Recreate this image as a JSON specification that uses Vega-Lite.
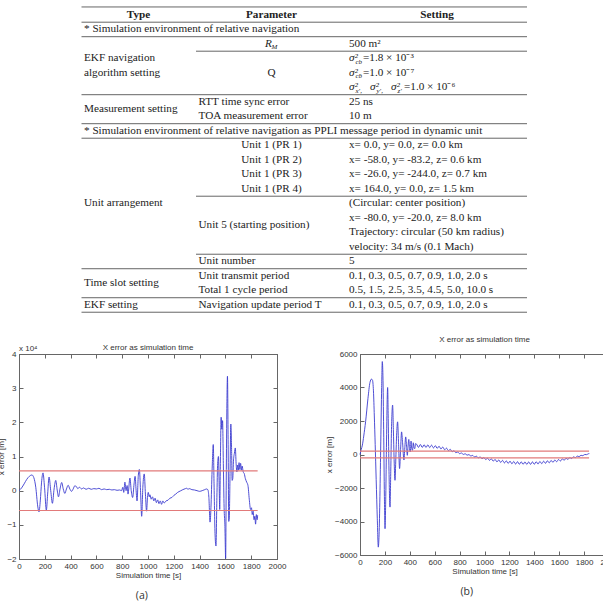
{
  "$schema": "https://vega.github.io/schema/vega-lite/v6.json",
  "padding": {"left": -3, "top": 0, "right": 0, "bottom": 0},
  "background": "white",
  "spacing": 19,
  "config": {
    "view": {"stroke": null},
    "font": "Liberation Sans",
    "axis": {
      "grid": false,
      "format": "d",
      "labelFont": "Liberation Sans",
      "labelFontSize": 8,
      "labelColor": "#333333",
      "labelFlush": false,
      "labelOverlap": false,
      "labelPadding": 7,
      "titleFont": "Liberation Sans",
      "titleFontSize": 8,
      "titleFontWeight": "normal",
      "titleColor": "#333333",
      "titlePadding": 1,
      "domainColor": "#666666",
      "tickColor": "#666666",
      "tickSize": -4
    }
  },
  "datasets": {
    "rules": [
      {"line": -0.55, "col": 0, "col2": 13},
      {"line": 0.5, "col": 0, "col2": 13},
      {"line": 1.5, "col": 0, "col2": 13},
      {"line": 2.5, "col": 3, "col2": 13},
      {"line": 5.5, "col": 0, "col2": 13},
      {"line": 7.5, "col": 0, "col2": 13},
      {"line": 8.5, "col": 0, "col2": 13},
      {"line": 12.5, "col": 3, "col2": 13},
      {"line": 16.5, "col": 3, "col2": 13},
      {"line": 17.5, "col": 0, "col2": 13},
      {"line": 19.5, "col": 0, "col2": 13},
      {"line": 20.5, "col": 0, "col2": 13}
    ],
    "head": [
      {"line": 0, "col": 2, "text": "Type"},
      {"line": 0, "col": 6, "text": "Parameter"},
      {"line": 0, "col": 12, "text": "Setting"}
    ],
    "leftCells": [
      {"line": 1, "col": 1, "text": "* Simulation environment of relative navigation"},
      {"line": 2, "col": 7, "text": "500 m²"},
      {"line": 3, "col": 1, "text": "EKF navigation"},
      {"line": 4, "col": 1, "text": "algorithm setting"},
      {"line": 3, "col": 8, "text": "=1.8 × 10⁻³"},
      {"line": 4, "col": 8, "text": "=1.0 × 10⁻⁷"},
      {"line": 5, "col": 11, "text": "=1.0 × 10⁻⁶"},
      {"line": 6, "col": 4, "text": "RTT time sync error"},
      {"line": 6, "col": 7, "text": "25 ns"},
      {"line": 6.5, "col": 1, "text": "Measurement setting"},
      {"line": 7, "col": 4, "text": "TOA measurement error"},
      {"line": 7, "col": 7, "text": "10 m"},
      {"line": 8, "col": 1, "text": "* Simulation environment of relative navigation as PPLI message period in dynamic unit"},
      {"line": 9, "col": 7, "text": "x= 0.0, y= 0.0, z= 0.0 km"},
      {"line": 10, "col": 7, "text": "x= -58.0, y= -83.2, z= 0.6 km"},
      {"line": 11, "col": 7, "text": "x= -26.0, y= -244.0, z= 0.7 km"},
      {"line": 12, "col": 7, "text": "x= 164.0, y= 0.0, z= 1.5 km"},
      {"line": 13, "col": 1, "text": "Unit arrangement"},
      {"line": 13, "col": 7, "text": "(Circular: center position)"},
      {"line": 14, "col": 7, "text": "x= -80.0, y= -20.0, z= 8.0 km"},
      {"line": 14.5, "col": 4, "text": "Unit 5 (starting position)"},
      {"line": 15, "col": 7, "text": "Trajectory: circular (50 km radius)"},
      {"line": 16, "col": 7, "text": "velocity: 34 m/s (0.1 Mach)"},
      {"line": 17, "col": 4, "text": "Unit number"},
      {"line": 17, "col": 7, "text": "5"},
      {"line": 18, "col": 4, "text": "Unit transmit period"},
      {"line": 18, "col": 7, "text": "0.1, 0.3, 0.5, 0.7, 0.9, 1.0, 2.0 s"},
      {"line": 18.5, "col": 1, "text": "Time slot setting"},
      {"line": 19, "col": 4, "text": "Total 1 cycle period"},
      {"line": 19, "col": 7, "text": "0.5, 1.5, 2.5, 3.5, 4.5, 5.0, 10.0 s"},
      {"line": 20, "col": 1, "text": "EKF setting"},
      {"line": 20, "col": 4, "text": "Navigation update period T"},
      {"line": 20, "col": 7, "text": "0.1, 0.3, 0.5, 0.7, 0.9, 1.0, 2.0 s"}
    ],
    "centerCells": [
      {"line": 4, "col": 6, "text": "Q"},
      {"line": 9, "col": 6, "text": "Unit 1 (PR 1)"},
      {"line": 10, "col": 6, "text": "Unit 1 (PR 2)"},
      {"line": 11, "col": 6, "text": "Unit 1 (PR 3)"},
      {"line": 12, "col": 6, "text": "Unit 1 (PR 4)"}
    ],
    "math": [
      {"line": 2, "col": 5, "text": "R"},
      {"line": 3, "col": 7, "text": "σ²"},
      {"line": 4, "col": 7, "text": "σ²"},
      {"line": 5, "col": 7, "text": "σ²"},
      {"line": 5, "col": 9, "text": "σ²"},
      {"line": 5, "col": 10, "text": "σ²"}
    ],
    "subs": [
      {"line": 2, "col": 5, "text": "M"},
      {"line": 3, "col": 7, "text": "cb"},
      {"line": 4, "col": 7, "text": "cḃ"},
      {"line": 5, "col": 7, "text": "x′,"},
      {"line": 5, "col": 9, "text": "y′,"},
      {"line": 5, "col": 10, "text": "z′"}
    ],
    "limA": [
      {"t0": 0, "t1": 1850, "v": 0.58},
      {"t0": 0, "t1": 1850, "v": -0.58}
    ],
    "limB": [
      {"t0": 0, "t1": 1840, "v": 200},
      {"t0": 0, "t1": 1840, "v": -200}
    ],
    "errA": [
      {"t": 0, "v": 0}, {"t": 20, "v": 0.08}, {"t": 40, "v": 0.2}, {"t": 60, "v": 0.33}, {"t": 80, "v": 0.42},
      {"t": 100, "v": 0.46}, {"t": 115, "v": 0.38}, {"t": 130, "v": 0.1}, {"t": 145, "v": -0.45}, {"t": 155, "v": -0.62},
      {"t": 165, "v": -0.3}, {"t": 175, "v": 0.25}, {"t": 186, "v": 0.52}, {"t": 198, "v": 0.1}, {"t": 212, "v": -0.57},
      {"t": 222, "v": -0.1}, {"t": 233, "v": 0.4}, {"t": 246, "v": 0.0}, {"t": 259, "v": -0.37}, {"t": 272, "v": 0.05},
      {"t": 285, "v": 0.3}, {"t": 296, "v": 0.02}, {"t": 306, "v": -0.18}, {"t": 318, "v": 0.05}, {"t": 331, "v": 0.24},
      {"t": 343, "v": 0.05}, {"t": 355, "v": -0.08}, {"t": 368, "v": 0.05}, {"t": 381, "v": 0.16}, {"t": 394, "v": 0.05},
      {"t": 407, "v": -0.02}, {"t": 420, "v": 0.05}, {"t": 432, "v": 0.14}, {"t": 445, "v": 0.12}, {"t": 455, "v": 0.06},
      {"t": 470, "v": 0.1}, {"t": 485, "v": 0.05}, {"t": 500, "v": 0.08}, {"t": 520, "v": 0.04}, {"t": 540, "v": 0.07},
      {"t": 560, "v": 0.04}, {"t": 580, "v": 0.06}, {"t": 600, "v": 0.05}, {"t": 620, "v": 0.07}, {"t": 640, "v": 0.03},
      {"t": 660, "v": 0.05}, {"t": 680, "v": 0.03}, {"t": 700, "v": 0.04}, {"t": 720, "v": 0.02}, {"t": 740, "v": 0.03},
      {"t": 760, "v": 0.01}, {"t": 780, "v": 0.02}, {"t": 795, "v": 0.0}, {"t": 805, "v": 0.1}, {"t": 812, "v": -0.05},
      {"t": 821, "v": 0.25}, {"t": 830, "v": 0.0}, {"t": 838, "v": 0.15}, {"t": 845, "v": -0.1}, {"t": 860, "v": 0.37},
      {"t": 870, "v": 0.0}, {"t": 881, "v": -0.2}, {"t": 892, "v": 0.2}, {"t": 900, "v": 0.42}, {"t": 908, "v": 0.0},
      {"t": 915, "v": -0.3}, {"t": 925, "v": 0.45}, {"t": 933, "v": 0.62}, {"t": 942, "v": 0.0}, {"t": 951, "v": -0.75},
      {"t": 960, "v": 0.1}, {"t": 971, "v": 0.49}, {"t": 980, "v": -0.1}, {"t": 989, "v": -0.6}, {"t": 996, "v": -0.2},
      {"t": 1002, "v": -0.05}, {"t": 1010, "v": -0.18}, {"t": 1015, "v": -0.12}, {"t": 1025, "v": -0.25}, {"t": 1035, "v": -0.18},
      {"t": 1045, "v": -0.3}, {"t": 1055, "v": -0.22}, {"t": 1065, "v": -0.35}, {"t": 1075, "v": -0.27}, {"t": 1085, "v": -0.38},
      {"t": 1095, "v": -0.3}, {"t": 1105, "v": -0.4}, {"t": 1115, "v": -0.3}, {"t": 1125, "v": -0.36}, {"t": 1140, "v": -0.3},
      {"t": 1155, "v": -0.28}, {"t": 1170, "v": -0.22}, {"t": 1185, "v": -0.2}, {"t": 1200, "v": -0.14}, {"t": 1215, "v": -0.1},
      {"t": 1230, "v": -0.05}, {"t": 1250, "v": -0.01}, {"t": 1270, "v": 0.03}, {"t": 1290, "v": 0.06}, {"t": 1300, "v": 0.07},
      {"t": 1310, "v": 0.04}, {"t": 1320, "v": 0.06}, {"t": 1340, "v": 0.03}, {"t": 1360, "v": 0.02}, {"t": 1380, "v": 0.0},
      {"t": 1400, "v": -0.02}, {"t": 1420, "v": 0.0}, {"t": 1440, "v": 0.03}, {"t": 1455, "v": 0.05}, {"t": 1465, "v": 0.02},
      {"t": 1472, "v": -0.2}, {"t": 1481, "v": -0.92}, {"t": 1488, "v": -0.5}, {"t": 1497, "v": 0.6}, {"t": 1506, "v": 1.35},
      {"t": 1512, "v": 0.2}, {"t": 1520, "v": -1.3}, {"t": 1527, "v": -1.62}, {"t": 1534, "v": -0.2}, {"t": 1540, "v": 0.8},
      {"t": 1546, "v": 1.0}, {"t": 1551, "v": 0.3}, {"t": 1556, "v": -0.55}, {"t": 1561, "v": 0.8}, {"t": 1567, "v": 2.15},
      {"t": 1572, "v": 1.8}, {"t": 1578, "v": 2.05}, {"t": 1584, "v": 0.8}, {"t": 1590, "v": -0.5}, {"t": 1596, "v": -1.0},
      {"t": 1602, "v": -1.98}, {"t": 1606, "v": 0.0}, {"t": 1611, "v": 2.3}, {"t": 1616, "v": 3.35}, {"t": 1621, "v": 1.5},
      {"t": 1626, "v": -0.9}, {"t": 1630, "v": -0.8}, {"t": 1636, "v": 0.5}, {"t": 1642, "v": 1.95}, {"t": 1648, "v": 1.2},
      {"t": 1652, "v": 0.3}, {"t": 1657, "v": 0.35}, {"t": 1663, "v": 0.9}, {"t": 1670, "v": 1.1}, {"t": 1677, "v": 1.25},
      {"t": 1683, "v": 0.8}, {"t": 1689, "v": 0.55}, {"t": 1695, "v": 0.75}, {"t": 1700, "v": 0.6}, {"t": 1706, "v": 0.82},
      {"t": 1712, "v": 0.62}, {"t": 1718, "v": 0.8}, {"t": 1724, "v": 0.6}, {"t": 1730, "v": 0.72}, {"t": 1738, "v": 0.55},
      {"t": 1746, "v": 0.5}, {"t": 1755, "v": 0.35}, {"t": 1765, "v": 0.25}, {"t": 1775, "v": 0.15}, {"t": 1785, "v": -0.25},
      {"t": 1795, "v": -0.55}, {"t": 1802, "v": -0.5}, {"t": 1808, "v": -0.7}, {"t": 1815, "v": -0.6}, {"t": 1822, "v": -0.85},
      {"t": 1828, "v": -0.75}, {"t": 1834, "v": -0.98}, {"t": 1840, "v": -0.7}, {"t": 1846, "v": -0.85}, {"t": 1850, "v": -0.72}
    ],
    "errB": [
      {"t": 0, "v": 0}, {"t": 10, "v": 300}, {"t": 19, "v": 560}, {"t": 30, "v": 1100}, {"t": 45, "v": 1960},
      {"t": 64, "v": 3350}, {"t": 80, "v": 4300}, {"t": 92, "v": 4500}, {"t": 100, "v": 4450}, {"t": 108, "v": 3800},
      {"t": 115, "v": 2300}, {"t": 122, "v": 600}, {"t": 130, "v": -1500}, {"t": 139, "v": -3840}, {"t": 147, "v": -5530},
      {"t": 153, "v": -4800}, {"t": 160, "v": -2500}, {"t": 167, "v": 800}, {"t": 174, "v": 4000}, {"t": 179, "v": 5550},
      {"t": 184, "v": 4700}, {"t": 190, "v": 1500}, {"t": 196, "v": -2500}, {"t": 201, "v": -4430}, {"t": 207, "v": -2500},
      {"t": 213, "v": 800}, {"t": 219, "v": 3500}, {"t": 222, "v": 4000}, {"t": 227, "v": 2000}, {"t": 233, "v": -1000},
      {"t": 241, "v": -3140}, {"t": 247, "v": -1000}, {"t": 253, "v": 1500}, {"t": 262, "v": 2950}, {"t": 268, "v": 1500},
      {"t": 274, "v": -300}, {"t": 281, "v": -1540}, {"t": 288, "v": -200}, {"t": 295, "v": 1300}, {"t": 302, "v": 1950},
      {"t": 309, "v": 800}, {"t": 318, "v": -840}, {"t": 326, "v": 300}, {"t": 334, "v": 1350}, {"t": 342, "v": 700},
      {"t": 353, "v": -330}, {"t": 360, "v": 400}, {"t": 367, "v": 1050}, {"t": 374, "v": 500}, {"t": 380, "v": -50},
      {"t": 386, "v": 500}, {"t": 392, "v": 900}, {"t": 398, "v": 350}, {"t": 404, "v": 150}, {"t": 410, "v": 800},
      {"t": 416, "v": 350}, {"t": 422, "v": 250}, {"t": 428, "v": 700}, {"t": 434, "v": 400}, {"t": 440, "v": 350},
      {"t": 446, "v": 650}, {"t": 455, "v": 610}, {"t": 470, "v": 425}, {"t": 485, "v": 600}, {"t": 500, "v": 420},
      {"t": 515, "v": 585}, {"t": 530, "v": 415}, {"t": 545, "v": 575}, {"t": 560, "v": 410}, {"t": 575, "v": 560},
      {"t": 590, "v": 390}, {"t": 605, "v": 530}, {"t": 620, "v": 365}, {"t": 635, "v": 495}, {"t": 650, "v": 330},
      {"t": 665, "v": 445}, {"t": 680, "v": 280}, {"t": 695, "v": 380}, {"t": 710, "v": 230}, {"t": 725, "v": 310},
      {"t": 740, "v": 165}, {"t": 755, "v": 230}, {"t": 770, "v": 105}, {"t": 785, "v": 150}, {"t": 800, "v": 50},
      {"t": 815, "v": 90}, {"t": 830, "v": 5}, {"t": 845, "v": 45}, {"t": 860, "v": -40}, {"t": 875, "v": -5},
      {"t": 890, "v": -90}, {"t": 905, "v": -55}, {"t": 920, "v": -145}, {"t": 935, "v": -100}, {"t": 950, "v": -200},
      {"t": 965, "v": -145}, {"t": 980, "v": -250}, {"t": 995, "v": -185}, {"t": 1010, "v": -300}, {"t": 1025, "v": -225},
      {"t": 1040, "v": -350}, {"t": 1055, "v": -260}, {"t": 1070, "v": -395}, {"t": 1085, "v": -295}, {"t": 1100, "v": -440},
      {"t": 1115, "v": -325}, {"t": 1130, "v": -475}, {"t": 1145, "v": -350}, {"t": 1160, "v": -505}, {"t": 1175, "v": -380},
      {"t": 1190, "v": -535}, {"t": 1205, "v": -397}, {"t": 1220, "v": -557}, {"t": 1235, "v": -415}, {"t": 1250, "v": -572},
      {"t": 1265, "v": -428}, {"t": 1280, "v": -583}, {"t": 1295, "v": -437}, {"t": 1310, "v": -590}, {"t": 1325, "v": -442},
      {"t": 1340, "v": -593}, {"t": 1355, "v": -443}, {"t": 1370, "v": -591}, {"t": 1385, "v": -438}, {"t": 1400, "v": -584},
      {"t": 1415, "v": -428}, {"t": 1430, "v": -571}, {"t": 1445, "v": -413}, {"t": 1460, "v": -549}, {"t": 1475, "v": -399},
      {"t": 1490, "v": -528}, {"t": 1505, "v": -376}, {"t": 1520, "v": -498}, {"t": 1535, "v": -354}, {"t": 1550, "v": -469},
      {"t": 1565, "v": -328}, {"t": 1580, "v": -431}, {"t": 1595, "v": -298}, {"t": 1610, "v": -389}, {"t": 1625, "v": -264},
      {"t": 1640, "v": -343}, {"t": 1655, "v": -226}, {"t": 1670, "v": -293}, {"t": 1685, "v": -184}, {"t": 1700, "v": -240},
      {"t": 1715, "v": -140}, {"t": 1730, "v": -185}, {"t": 1745, "v": -94}, {"t": 1760, "v": -128}, {"t": 1775, "v": -47},
      {"t": 1790, "v": -71}, {"t": 1805, "v": 0}, {"t": 1820, "v": -7}, {"t": 1835, "v": 45}, {"t": 1842, "v": 55}
    ]
  },
  "vconcat": [
    {
      "width": 580,
      "height": 316,
      "encoding": {
        "x": {"field": "col", "type": "quantitative", "axis": null,
              "scale": {"domain": [0, 1, 2, 3, 4, 5, 6, 7, 8, 9, 10, 11, 12, 13],
                        "range": [62.5, 65, 119.5, 177, 179.5, 246, 252.5, 330, 344, 351, 372, 385, 418, 508],
                        "nice": false, "zero": false}},
        "y": {"field": "line", "type": "quantitative", "axis": null,
              "scale": {"domain": [-1.03, 20.76], "reverse": true, "nice": false, "zero": false}}
      },
      "layer": [
        {
          "data": {"name": "rules"},
          "mark": {"type": "rule", "color": "#666666", "strokeWidth": 1},
          "encoding": {"x2": {"field": "col2"}}
        },
        {
          "data": {"name": "head"},
          "mark": {"type": "text", "align": "center", "font": "Liberation Serif", "fontSize": 11.2, "fontWeight": "bold", "color": "#222222"},
          "encoding": {"text": {"field": "text"}}
        },
        {
          "data": {"name": "leftCells"},
          "mark": {"type": "text", "align": "left", "font": "Liberation Serif", "fontSize": 11.2, "color": "#222222"},
          "encoding": {"text": {"field": "text"}}
        },
        {
          "data": {"name": "centerCells"},
          "mark": {"type": "text", "align": "center", "font": "Liberation Serif", "fontSize": 11.2, "color": "#222222"},
          "encoding": {"text": {"field": "text"}}
        },
        {
          "data": {"name": "math"},
          "mark": {"type": "text", "align": "left", "font": "Liberation Serif", "fontSize": 11.2, "fontStyle": "italic", "color": "#222222"},
          "encoding": {"text": {"field": "text"}}
        },
        {
          "data": {"name": "subs"},
          "mark": {"type": "text", "align": "left", "font": "Liberation Serif", "fontSize": 7, "fontStyle": "italic", "color": "#222222", "dx": 6.5, "dy": 3.5},
          "encoding": {"text": {"field": "text"}}
        }
      ]
    },
    {
      "spacing": 38,
      "hconcat": [
        {
          "title": {"text": "(a)", "orient": "bottom", "anchor": "middle", "font": "Open Sans", "fontSize": 10.5, "fontWeight": "normal", "color": "#333333", "offset": 11},
          "vconcat": [
            {
              "width": 258,
              "height": 205,
              "title": {"text": "X error as simulation time", "frame": "group", "anchor": "middle", "font": "Liberation Sans", "fontSize": 8, "fontWeight": "normal", "color": "#333333", "offset": -7},
              "view": {"stroke": "#666666", "strokeWidth": 1},
              "layer": [
                {
                  "data": {"name": "errA"},
                  "mark": {"type": "line", "color": "#3b3bcf", "strokeWidth": 0.9, "interpolate": "monotone"},
                  "encoding": {
                    "x": {"field": "t", "type": "quantitative", "scale": {"domain": [0, 2000], "nice": false},
                          "axis": {"orient": "bottom", "values": [0, 200, 400, 600, 800, 1000, 1200, 1400, 1600, 1800, 2000], "title": "Simulation time [s]"}},
                    "y": {"field": "v", "type": "quantitative", "scale": {"domain": [-2, 4], "nice": false, "zero": false},
                          "axis": {"orient": "left", "values": [-2, -1, 0, 1, 2, 3, 4], "title": "x error [m]"}}
                  }
                },
                {
                  "data": {"name": "limA"},
                  "mark": {"type": "rule", "color": "#e27a7a", "strokeWidth": 1.1},
                  "encoding": {
                    "x": {"field": "t0", "type": "quantitative", "axis": {"orient": "top", "values": [0, 200, 400, 600, 800, 1000, 1200, 1400, 1600, 1800, 2000], "labels": false, "title": null}},
                    "x2": {"field": "t1"},
                    "y": {"field": "v", "type": "quantitative", "axis": {"orient": "right", "values": [-2, -1, 0, 1, 2, 3, 4], "labels": false, "title": null}}
                  }
                },
                {
                  "data": {"values": [{"t": 0, "v": 4, "label": "x 10⁴"}]},
                  "mark": {"type": "text", "align": "left", "baseline": "bottom", "dy": -1, "font": "Liberation Sans", "fontSize": 8, "color": "#333333"},
                  "encoding": {
                    "x": {"field": "t", "type": "quantitative", "axis": null},
                    "y": {"field": "v", "type": "quantitative", "axis": null},
                    "text": {"field": "label"}
                  }
                }
              ],
              "resolve": {"axis": {"x": "independent", "y": "independent"}}
            }
          ]
        },
        {
          "title": {"text": "(b)", "orient": "bottom", "anchor": "middle", "font": "Open Sans", "fontSize": 10.5, "fontWeight": "normal", "color": "#333333", "offset": 11, "dx": -5},
          "vconcat": [
            {
              "width": 249,
              "height": 201,
              "title": {"text": "X error as simulation time", "frame": "group", "anchor": "middle", "font": "Liberation Sans", "fontSize": 8, "fontWeight": "normal", "color": "#333333", "offset": 6},
              "view": {"stroke": "#666666", "strokeWidth": 1},
              "layer": [
                {
                  "data": {"name": "errB"},
                  "mark": {"type": "line", "color": "#3b3bcf", "strokeWidth": 0.9, "interpolate": "monotone"},
                  "encoding": {
                    "x": {"field": "t", "type": "quantitative", "scale": {"domain": [0, 2000], "nice": false},
                          "axis": {"orient": "bottom", "values": [0, 200, 400, 600, 800, 1000, 1200, 1400, 1600, 1800, 2000], "title": "Simulation time [s]"}},
                    "y": {"field": "v", "type": "quantitative", "scale": {"domain": [-6000, 6000], "nice": false, "zero": false},
                          "axis": {"orient": "left", "values": [-6000, -4000, -2000, 0, 2000, 4000, 6000], "title": "x error [m]"}}
                  }
                },
                {
                  "data": {"name": "limB"},
                  "mark": {"type": "rule", "color": "#e27a7a", "strokeWidth": 1.1},
                  "encoding": {
                    "x": {"field": "t0", "type": "quantitative", "axis": {"orient": "top", "values": [0, 200, 400, 600, 800, 1000, 1200, 1400, 1600, 1800, 2000], "labels": false, "title": null}},
                    "x2": {"field": "t1"},
                    "y": {"field": "v", "type": "quantitative", "axis": {"orient": "right", "values": [-6000, -4000, -2000, 0, 2000, 4000, 6000], "labels": false, "title": null}}
                  }
                }
              ],
              "resolve": {"axis": {"x": "independent", "y": "independent"}}
            }
          ]
        }
      ]
    }
  ]
}
